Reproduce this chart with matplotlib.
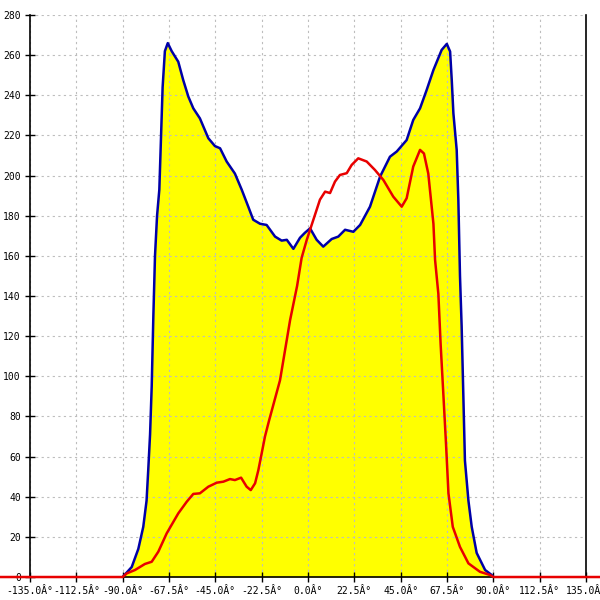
import numpy as np
import matplotlib
matplotlib.use("Agg")
import matplotlib.pyplot as plt

# outline of the yellow area (blue curve)
blue_x = [-90, -85.6, -82.4, -80, -78.4, -77.6, -76.7, -75.9, -75.1, -74.3, -73.3, -72.2,
          -70.6, -69.5, -68.1, -66.2, -63, -60.6, -58.1, -55.7, -52.5, -48.4, -45.2, -42.7,
          -39.5, -35.5, -32.2, -29, -26.6, -23.3, -20.1, -16, -12.8, -10.3, -7.1, -3.9, -1.5,
          1.0, 4.2, 7.4, 11.5, 14.7, 18, 22, 25.3, 30.1, 35, 39.8, 43.1, 47.9, 51.1, 54.4,
          57.6, 60.9, 64.9, 67.4, 69, 69.8, 70.6, 72.2, 73.0, 73.8, 74.6, 75.4, 76.2, 77.9,
          79.5, 81.9, 86, 89.2, 90]
blue_y = [0, 5, 14, 25, 38, 53, 71, 95, 130, 160, 180, 193,
          244, 262, 266, 262, 256.7, 247.6, 239.3, 233.5, 228.5, 218.6, 214.7, 213.6,
          207, 201, 193, 184.5, 178, 176, 175.4, 169.6, 167.6, 168, 163.5, 169, 171.5,
          173.7, 168, 164.6, 168.4, 169.6, 173, 172, 175.4, 184.5, 199.5, 209.4, 212, 217.7,
          227.7, 233.5, 242.6, 252.6, 262.6, 265.6, 261.8, 247.6, 231, 212.8, 188, 150,
          125, 91.5, 58, 38, 25, 12, 3.5, 1, 0]

# red curve
red_x = [-150, -90, -88, -84, -79.2, -75.9, -72.7, -68.6, -63, -58.9, -55.7, -52.5, -48.4,
         -44.3, -41.1, -37.9, -35.5, -32.5, -29.8, -27.8, -25.7, -24.1, -22.5, -20.9, -18.9,
         -13.6, -8.7, -5.3, -3.1, -0.6, 2.6, 5.8, 8.3, 10.7, 13.1, 15.5, 18.8, 21.2, 24.4,
         28.5, 32.5, 36.6, 41.4, 45.5, 47.9, 51.1, 54.4, 56.3, 58.4, 60.9, 61.7, 63.3, 64.4,
         65.7, 67, 68.2, 70.3, 73.8, 77.9, 83.5, 88.4, 90, 150]
red_y = [0, 0, 1.8, 3.5, 6.5, 7.6, 12.6, 21.8, 31.7, 37.5, 41.4, 41.7, 45,
         47, 47.5, 48.8, 48.3, 49.5, 45, 43.3, 46.7, 53.3, 61.6, 70, 78,
         98, 128, 145, 159, 168, 178, 188, 192, 191.3, 197, 200.3, 201.2, 205.3, 208.6,
         207, 202.8, 197.8, 189.5, 184.5, 188.7, 204.5, 212.8, 211, 201, 176, 158, 141, 116,
         91.5, 66.6, 41.7, 25, 15, 6.8, 2.6, 1, 0, 0]

x_ticks = np.arange(-135, 135.1, 22.5)
y_ticks = np.arange(0, 281, 20)

fig = plt.figure(figsize=(6, 6), dpi=100)
ax = fig.add_axes([0.05, 0.0383, 0.9267, 0.9367])

ax.fill_between(blue_x, blue_y, 0, color="#ffff00", zorder=2, lw=0)
ax.plot(blue_x, blue_y, color="#0000a8", lw=1.8, zorder=3)
ax.plot(red_x, red_y, color="#e80000", lw=1.8, zorder=6, clip_on=False)

ax.set_xlim(-135, 135)
ax.set_ylim(0, 280)
ax.set_xticks(x_ticks)
ax.set_xticklabels([f"{t:.1f}Â°" for t in x_ticks])
ax.set_yticks(y_ticks)
ax.set_yticklabels([str(t) for t in y_ticks])

# grid sits over the yellow fill but under the curves
ax.set_axisbelow(False)
ax.grid(True, color="#bdbdbd", linestyle=(0, (2, 3)), lw=0.8)
ax.spines["top"].set_visible(False)
for s in ("left", "right", "bottom"):
    ax.spines[s].set_color("black")
    ax.spines[s].set_linewidth(1.2)
    ax.spines[s].set_zorder(5)
ax.tick_params(direction="inout", length=7, width=1, labelsize=7,
               colors="black", pad=3)
for lab in ax.get_xticklabels() + ax.get_yticklabels():
    lab.set_family("DejaVu Sans Mono")

fig.savefig("out.png", dpi=100)
